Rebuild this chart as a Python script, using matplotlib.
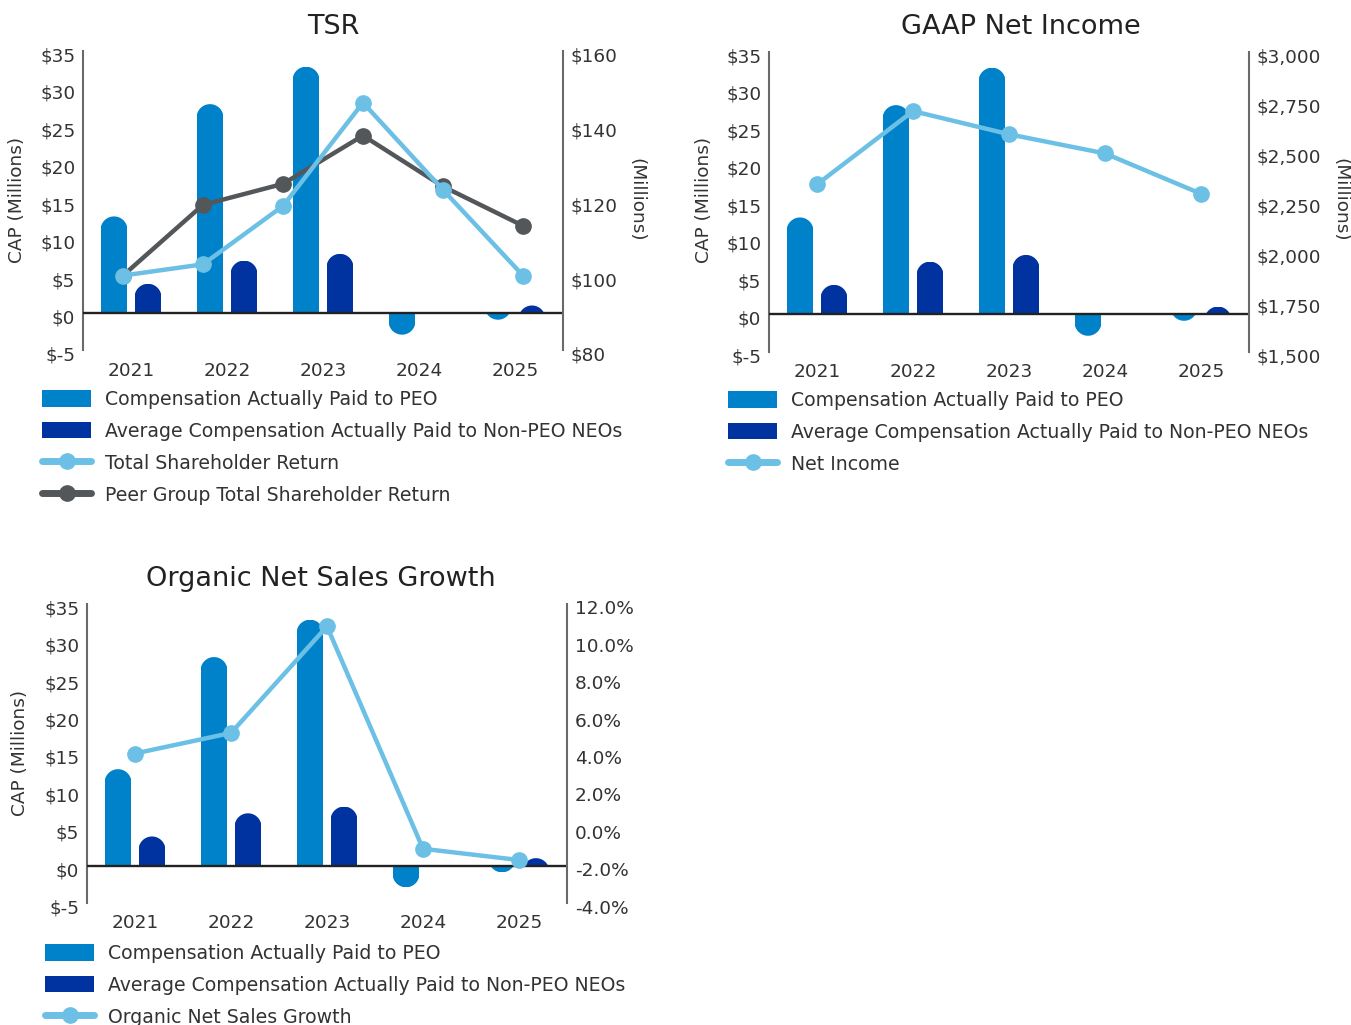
import matplotlib
matplotlib.use("Agg")
import numpy as np
import matplotlib.pyplot as plt
from matplotlib.patches import Polygon, Rectangle, Patch
from matplotlib.lines import Line2D
from matplotlib.ticker import FuncFormatter
from matplotlib.transforms import ScaledTranslation

# data
years = ["2021", "2022", "2023", "2024", "2025"]
tsr_years = ["2020", "2021", "2022", "2023", "2024", "2025"]
cap_peo = [12.9, 27.9, 32.9, -2.9, -0.9]
cap_neo = [3.9, 7.0, 7.9, 0.0, 1.0]
tsr = [100, 103, 118.6, 146.2, 122.9, 100]
peer_tsr = [100, 118.9, 124.5, 137.4, 123.8, 113.3]
net_income = [2337, 2704, 2588, 2492, 2290]
organic_growth = [4.0, 5.1, 10.8, -1.1, -1.7]

C_PEO = "#0082CA"
C_NEO = "#0033A0"
C_LINE = "#6CC0E5"
C_PEER = "#54575A"
C_TXT = "#333333"
C_SPINE = "#6A6A6A"

plt.rcParams["font.family"] = ["DejaVu Sans"]

W, H = 1351, 1025
fig = plt.figure(figsize=(W / 100, H / 100), dpi=100)

TICK_FS = 13.3
LEG_FS = 13.6
TITLE_FS = 19.5


def px_rect(l, t, r, b):
    return [l / W, 1 - b / H, (r - l) / W, (b - t) / H]


def shift_ylabels(ax, dy_px=-3.5):
    # the reference sits its y tick labels a touch below the tick value
    off = ScaledTranslation(0, dy_px / 100, fig.dpi_scale_trans)
    for t in ax.yaxis.get_major_ticks():
        t.label1.set_transform(t.label1.get_transform() + off)
        t.label2.set_transform(t.label2.get_transform() + off)


def rounded_bars(ax, xs, vals, width, color):
    # bars with a round end, drawn in data units
    pos = ax.get_position()
    x0, x1 = ax.get_xlim()
    y0, y1 = ax.get_ylim()
    aspect = (pos.width * W / (x1 - x0)) / (pos.height * H / (y1 - y0))
    r = width / 2
    ry = r * aspect
    t = np.linspace(np.pi, 0, 40)
    for x, v in zip(xs, vals):
        if v == 0:
            continue
        s = 1 if v > 0 else -1
        cy = v - s * ry
        base = -s * 2 * ry
        arc = np.column_stack([x + r * np.cos(t), cy + s * ry * np.sin(t)])
        pts = np.vstack([[x - r, base], [x - r, cy], arc, [x + r, cy], [x + r, base]])
        p = Polygon(pts, closed=True, fc=color, ec="none", zorder=2)
        ax.add_patch(p)
        clip = Rectangle((x - r, min(0, v)), width, abs(v), transform=ax.transData)
        p.set_clip_path(clip)


def base_chart(rect, title, title_xy):
    ax = fig.add_axes(rect)
    ax.set_xlim(-0.5, 4.5)
    ax.set_ylim(-5, 35)
    ax.set_yticks(range(-5, 36, 5))
    ax.yaxis.set_major_formatter(FuncFormatter(lambda v, p: f"${v:.0f}"))
    ax.set_xticks(range(len(years)))
    ax.set_xticklabels(years)
    ax.tick_params(length=0, labelsize=TICK_FS, labelcolor=C_TXT)
    ax.tick_params(axis="y", pad=5.5)
    ax.tick_params(axis="x", pad=8)
    shift_ylabels(ax)
    for s in ["top", "bottom", "right"]:
        ax.spines[s].set_visible(False)
    ax.spines["left"].set_color(C_SPINE)
    ax.spines["left"].set_linewidth(1.5)
    ax.patch.set_visible(False)
    xs = list(range(len(years)))
    off = 0.177
    rounded_bars(ax, [x - off for x in xs], cap_peo, 0.28, C_PEO)
    rounded_bars(ax, [x + off for x in xs], cap_neo, 0.28, C_NEO)
    ax.axhline(0, color="#222222", lw=1.7, zorder=5)
    fig.text(title_xy[0] / W, 1 - title_xy[1] / H, title, ha="center", va="center",
             fontsize=TITLE_FS, color="#222222")
    return ax


def right_axis(ax, lo, hi, step, fmt, ncat=None):
    if ncat is None:
        ax2 = ax.twinx()
    else:
        ax2 = fig.add_axes(ax.get_position())
        ax2.set_xlim(-0.5, ncat - 0.5)
        ax2.set_xticks([])
        ax2.yaxis.tick_right()
    ax2.patch.set_visible(False)
    ax2.set_ylim(lo, hi)
    ticks = []
    v = lo
    while v <= hi + 1e-9:
        ticks.append(v)
        v += step
    ax2.set_yticks(ticks)
    ax2.yaxis.set_major_formatter(FuncFormatter(fmt))
    ax2.tick_params(length=0, labelsize=TICK_FS, labelcolor=C_TXT, pad=5.5)
    shift_ylabels(ax2)
    for s in ["top", "bottom", "left"]:
        ax2.spines[s].set_visible(False)
    ax2.spines["right"].set_visible(True)
    ax2.spines["right"].set_color(C_SPINE)
    ax2.spines["right"].set_linewidth(1.5)
    return ax2


def line(ax, xs, ys, color):
    ax.plot(xs, ys, color=color, lw=3.2, marker="o", ms=11, zorder=6, clip_on=False)


def legend(x, y, labels_lines):
    handles = [Patch(fc=C_PEO), Patch(fc=C_NEO)]
    labels = ["Compensation Actually Paid to PEO",
              "Average Compensation Actually Paid to Non-PEO NEOs"]
    for lab, col in labels_lines:
        handles.append(Line2D([], [], color=col, lw=5, marker="o", ms=11,
                              solid_capstyle="round"))
        labels.append(lab)
    leg = fig.legend(handles, labels, loc="upper left",
                     bbox_to_anchor=(x / W, 1 - y / H), frameon=False,
                     fontsize=LEG_FS, handlelength=2.6, handleheight=0.95,
                     handletextpad=0.75, labelspacing=0.68, borderpad=0,
                     borderaxespad=0)
    for t in leg.get_texts():
        t.set_color(C_TXT)


def ylabels(xl, xr, yc):
    fig.text(xl / W, 1 - yc / H, "CAP (Millions)", rotation=90, ha="center",
             va="center", fontsize=TICK_FS, color=C_TXT)
    if xr is not None:
        fig.text(xr / W, 1 - yc / H, "(Millions)", rotation=270, ha="center",
                 va="center", fontsize=TICK_FS, color=C_TXT)


# TSR
ax1 = base_chart(px_rect(83, 51, 563, 350.4), "TSR", (333, 27))
ax1r = right_axis(ax1, 80, 160, 20, lambda v, p: f"${v:.0f}", ncat=len(tsr_years))
line(ax1r, range(len(tsr_years)), peer_tsr, C_PEER)
line(ax1r, range(len(tsr_years)), tsr, C_LINE)
ylabels(17, 636, 200)
legend(42, 390, [("Total Shareholder Return", C_LINE),
                 ("Peer Group Total Shareholder Return", C_PEER)])

# GAAP Net Income
ax2 = base_chart(px_rect(769, 52, 1249, 351.5), "GAAP Net Income", (1021, 27))
ax2r = right_axis(ax2, 1500, 3000, 250, lambda v, p: f"${v:,.0f}")
line(ax2r, range(len(years)), net_income, C_LINE)
ylabels(704, 1340, 200)
legend(728, 391, [("Net Income", C_LINE)])

# Organic Net Sales Growth
ax3 = base_chart(px_rect(87, 604, 567, 903), "Organic Net Sales Growth", (321, 579))
ax3r = right_axis(ax3, -4, 12, 2, lambda v, p: f"{v:.1f}%")
line(ax3r, range(len(years)), organic_growth, C_LINE)
ylabels(20, None, 753)
legend(45, 944, [("Organic Net Sales Growth", C_LINE)])

fig.savefig("out.png", dpi=100)
